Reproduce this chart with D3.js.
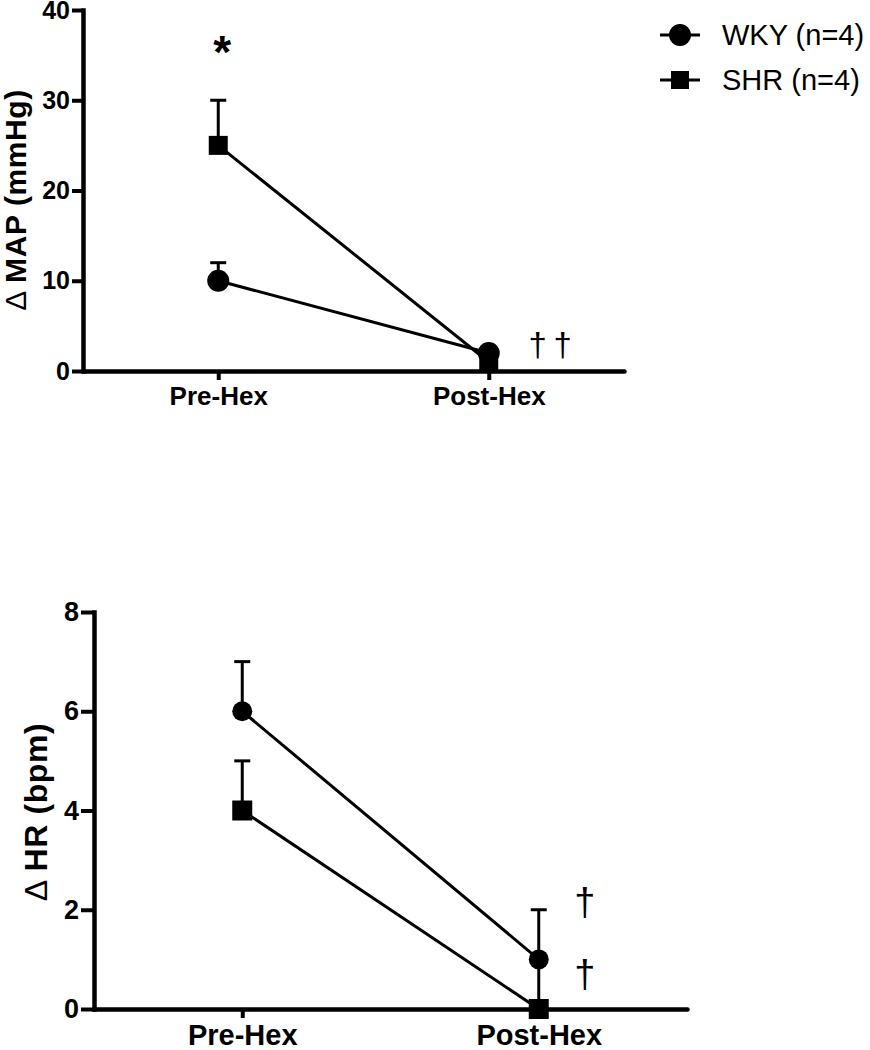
<!DOCTYPE html>
<html>
<head>
<meta charset="utf-8">
<script src="https://cdn.jsdelivr.net/npm/d3@7"></script>
<style>
  body { margin: 0; background: #fff; }
  svg { display: block; font-family: Arial, 'Liberation Sans', sans-serif; }
</style>
</head>
<body>
<svg id="chart" width="870" height="1050"></svg>
<script>
// data
const groups = ['Pre-Hex', 'Post-Hex'];
const seriesNames = ['WKY (n=4)', 'SHR (n=4)'];

const mapWKY = [10, 2];
const mapWKYErr = [2, 0];
const mapSHR = [25, 1];
const mapSHRErr = [5, 0];

const hrWKY = [6, 1];
const hrWKYErr = [1, 1];
const hrSHR = [4, 0];
const hrSHRErr = [1, 1];

const mapTicks = [0, 10, 20, 30, 40];
const hrTicks = [0, 2, 4, 6, 8];

const svg = d3.select('#chart');

// one panel: axes, error bars, lines, markers
function drawPanel(opts) {
    const g = svg.append('g');

    const x = d3.scalePoint()
        .domain(groups)
        .range([opts.left, opts.right])
        .padding(0.5);

    const y = d3.scaleLinear()
        .domain([0, opts.yMax])
        .range([opts.bottom, opts.top]);

    const series = [
        { name: seriesNames[0], shape: 'circle', values: opts.wky, err: opts.wkyErr },
        { name: seriesNames[1], shape: 'square', values: opts.shr, err: opts.shrErr }
    ];

    // y axis
    const yAxis = g.append('g')
        .attr('transform', `translate(${opts.left},0)`)
        .call(d3.axisLeft(y).tickValues(opts.ticks).tickSize(opts.tickLen).tickSizeOuter(0).tickPadding(2));
    yAxis.select('.domain').attr('stroke-width', 4.5).attr('stroke-linecap', 'square');
    yAxis.selectAll('.tick line').attr('stroke-width', 4);
    yAxis.selectAll('.tick text')
        .attr('font-size', opts.tickFont)
        .attr('font-weight', 'bold')
        .attr('font-family', 'Arial, Liberation Sans, sans-serif')
        .attr('fill', '#000');

    // x axis
    const xAxis = g.append('g')
        .attr('transform', `translate(0,${opts.bottom})`)
        .call(d3.axisBottom(x).tickSize(9).tickSizeOuter(0).tickPadding(opts.xPad));
    xAxis.select('.domain').attr('stroke-width', 4.5).attr('stroke-linecap', 'round');
    xAxis.selectAll('.tick line').attr('stroke-width', 4);
    xAxis.selectAll('.tick text')
        .attr('font-size', opts.xFont)
        .attr('font-weight', 'bold')
        .attr('font-family', 'Arial, Liberation Sans, sans-serif')
        .attr('fill', '#000');

    // y label
    const lab = g.append('text')
        .attr('transform', `translate(${opts.labelX},${opts.labelY}) rotate(-90)`)
        .attr('text-anchor', 'middle')
        .attr('dominant-baseline', 'central')
        .attr('font-size', opts.labelFont)
        .attr('letter-spacing', opts.labelSpacing)
        .attr('font-weight', 'bold');
    lab.append('tspan').attr('font-weight', 'normal').text('\u0394 ');
    lab.append('tspan').text(opts.label);

    // error bars (upper only)
    series.forEach(s => {
        s.values.forEach((v, i) => {
            if (!s.err[i]) return;
            const cx = x(groups[i]);
            g.append('line')
                .attr('x1', cx).attr('x2', cx)
                .attr('y1', y(v)).attr('y2', y(v + s.err[i]))
                .attr('stroke', '#000').attr('stroke-width', 3);
            g.append('line')
                .attr('x1', cx - 8).attr('x2', cx + 8)
                .attr('y1', y(v + s.err[i])).attr('y2', y(v + s.err[i]))
                .attr('stroke', '#000').attr('stroke-width', 3);
        });
    });

    // lines
    const line = d3.line()
        .x((d, i) => x(groups[i]))
        .y(d => y(d));
    series.forEach(s => {
        g.append('path')
            .datum(s.values)
            .attr('d', line)
            .attr('fill', 'none')
            .attr('stroke', '#000')
            .attr('stroke-width', 3);
    });

    // markers
    series.forEach(s => {
        s.values.forEach((v, i) => {
            const cx = x(groups[i]);
            if (s.shape === 'circle') {
                g.append('circle')
                    .attr('cx', cx).attr('cy', y(v))
                    .attr('r', opts.r)
                    .attr('fill', '#000');
            } else {
                g.append('rect')
                    .attr('x', cx - opts.sq / 2).attr('y', y(v) - opts.sq / 2)
                    .attr('width', opts.sq).attr('height', opts.sq)
                    .attr('fill', '#000');
            }
        });
    });

    // significance marks
    opts.marks.forEach(m => {
        g.append('text')
            .attr('x', x(m.group) + m.dx)
            .attr('y', y(m.value))
            .attr('text-anchor', 'middle')
            .attr('dominant-baseline', 'central')
            .attr('font-size', m.size)
            .attr('font-weight', m.bold ? 'bold' : 'normal')
            .text(m.text);
    });
}

drawPanel({
    left: 83, right: 624, top: 10, bottom: 371,
    yMax: 40, ticks: mapTicks, tickLen: 11, tickFont: 25,
    xFont: 26, xPad: 7,
    wky: mapWKY, wkyErr: mapWKYErr, shr: mapSHR, shrErr: mapSHRErr,
    r: 11, sq: 19,
    label: 'MAP (mmHg)', labelX: 15, labelY: 200, labelFont: 30, labelSpacing: 0.6,
    marks: [
        { group: 'Pre-Hex', dx: 4, value: 35.4, text: '*', size: 46, bold: true },
        { group: 'Post-Hex', dx: 49, value: 2.9, text: '\u2020', size: 33 },
        { group: 'Post-Hex', dx: 74, value: 2.9, text: '\u2020', size: 33 }
    ]
});

drawPanel({
    left: 94, right: 687, top: 612, bottom: 1009,
    yMax: 8, ticks: hrTicks, tickLen: 13, tickFont: 27,
    xFont: 29, xPad: 6,
    wky: hrWKY, wkyErr: hrWKYErr, shr: hrSHR, shrErr: hrSHRErr,
    r: 10, sq: 20,
    label: 'HR (bpm)', labelX: 36, labelY: 812, labelFont: 32, labelSpacing: 0.6,
    marks: [
        { group: 'Post-Hex', dx: 46, value: 2.16, text: '\u2020', size: 38 },
        { group: 'Post-Hex', dx: 46, value: 0.7, text: '\u2020', size: 38 }
    ]
});

// legend
const legendY = [35, 80];
const legend = svg.append('g');
seriesNames.forEach((name, i) => {
    const row = legend.append('g').attr('transform', `translate(0,${legendY[i]})`);
    row.append('line')
        .attr('x1', 660).attr('x2', 700)
        .attr('stroke', '#000').attr('stroke-width', 3);
    if (i === 0) {
        row.append('circle').attr('cx', 680).attr('r', 11).attr('fill', '#000');
    } else {
        row.append('rect').attr('x', 671).attr('y', -9).attr('width', 18).attr('height', 18).attr('fill', '#000');
    }
    row.append('text')
        .attr('x', 722)
        .attr('dominant-baseline', 'central')
        .attr('font-size', 29)
        .text(name);
});
</script>
</body>
</html>
